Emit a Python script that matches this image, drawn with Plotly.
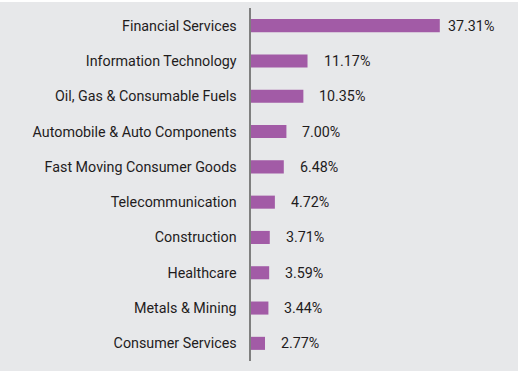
import plotly.graph_objects as go

categories = [
    "Financial Services",
    "Information Technology",
    "Oil, Gas & Consumable Fuels",
    "Automobile & Auto Components",
    "Fast Moving Consumer Goods",
    "Telecommunication",
    "Construction",
    "Healthcare",
    "Metals & Mining",
    "Consumer Services",
]
values = [37.31, 11.17, 10.35, 7.00, 6.48, 4.72, 3.71, 3.59, 3.44, 2.77]
value_labels = [f"{v:.2f}%" for v in values]

W, H = 522, 371
L, R, T, B = 251, 18, 8, 10
pw, ph = W - L - R, H - T - B

BG = "#e7e8ea"
BAR = "#a25ba6"
TXT = "#1f1c1d"
FONT = "Roboto, Arial, sans-serif"
FS = 14.3

fig = go.Figure()
fig.add_trace(go.Bar(
    x=values, y=categories, orientation="h",
    marker=dict(color=BAR, line=dict(width=0)),
    width=0.37, hoverinfo="skip",
))

annotations = []
for i, (c, v, t) in enumerate(zip(categories, values, value_labels)):
    annotations.append(dict(
        x=v, y=c, xref="x", yref="y", text=t, showarrow=False,
        xanchor="left", yanchor="middle", xshift=6 if i == 0 else 14,
        font=dict(family=FONT, size=FS, color=TXT),
    ))

def px_x(p):
    return (p - L) / pw

def px_y(p):
    return (H - B - p) / ph

fig.update_layout(
    width=W, height=H,
    margin=dict(l=L, r=R, t=T, b=B, pad=0),
    paper_bgcolor="white",
    plot_bgcolor="rgba(0,0,0,0)",
    showlegend=False,
    annotations=annotations,
    shapes=[dict(type="rect", xref="paper", yref="paper", layer="below",
                 x0=px_x(0), x1=px_x(518), y0=px_y(371), y1=px_y(2),
                 fillcolor=BG, line=dict(width=0))],
    xaxis=dict(range=[0, 50], visible=False, fixedrange=True),
    yaxis=dict(
        categoryorder="array", categoryarray=categories, autorange="reversed",
        showline=True, linecolor="#7f7f7f", linewidth=2.5,
        showgrid=False, zeroline=False, ticks="",
        ticklabelstandoff=9,
        tickfont=dict(family=FONT, size=FS, color=TXT),
        fixedrange=True,
    ),
    font=dict(family=FONT, size=FS, color=TXT),
)

fig.write_html(
    "out.html",
    config={"displayModeBar": False, "staticPlot": True},
    post_script="document.body.style.margin='0';document.body.style.padding='0';",
)
